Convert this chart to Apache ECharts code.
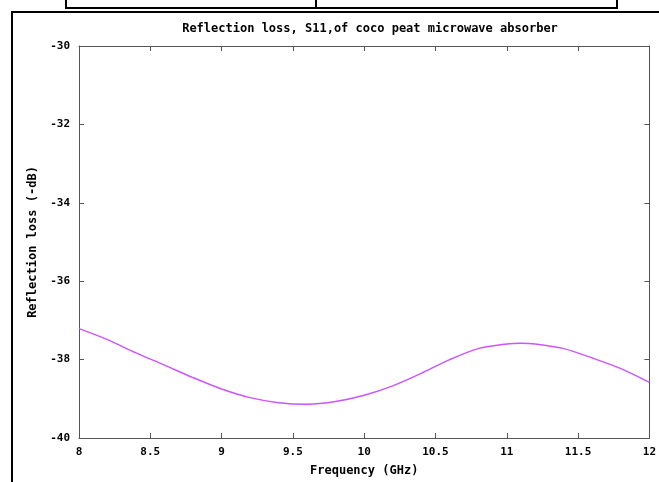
<!DOCTYPE html>
<html>
<head>
<meta charset="utf-8">
<script src="https://cdn.jsdelivr.net/npm/echarts@6/dist/echarts.min.js"></script>
<style>html,body{margin:0;padding:0;background:#fff;}#c{width:659px;height:482px;}</style>
</head>
<body>
<div id="c"></div>
<script>
var freq = [8.0, 8.2, 8.4, 8.6, 8.8, 9.0, 9.2, 9.4, 9.6, 9.8, 10.0, 10.2, 10.4, 10.6, 10.8, 11.0, 11.1, 11.2, 11.4, 11.6, 11.8, 12.0];
var loss = [-37.21, -37.49, -37.83, -38.14, -38.46, -38.75, -38.97, -39.10, -39.14, -39.07, -38.91, -38.67, -38.35, -38.00, -37.72, -37.60, -37.58, -37.60, -37.72, -37.96, -38.23, -38.58];
var titleText = 'Reflection loss, S11,of coco peat microwave absorber';
var xName = 'Frequency (GHz)';
var yName = 'Reflection loss (-dB)';

var FONT = 'DejaVu Sans Mono';
var chart = echarts.init(document.getElementById('c'), null, {renderer: 'canvas'});
var pts = freq.map(function (f, i) { return [f, loss[i]]; });
var axisLine = {show: true, lineStyle: {color: '#555', width: 1}};
var tick = {show: true, inside: true, length: 5, lineStyle: {color: '#555', width: 1}};
chart.setOption({
  animation: false,
  backgroundColor: '#fff',
  title: {
    text: titleText, left: 365, top: 18, textAlign: 'center',
    textStyle: {fontFamily: FONT, fontSize: 12, fontWeight: 'bold', color: '#000'}
  },
  grid: {left: 79, right: 8, top: 46, bottom: 39, containLabel: false},
  xAxis: [{
    type: 'value', min: 8, max: 12, interval: 0.5, position: 'bottom',
    name: xName, nameLocation: 'middle', nameGap: 27,
    nameTextStyle: {fontFamily: FONT, fontSize: 12, fontWeight: 'bold', color: '#000'},
    axisLine: axisLine, axisTick: tick, splitLine: {show: false},
    axisLabel: {fontFamily: FONT, fontSize: 11, fontWeight: 'bold', color: '#000', margin: 9,
      formatter: function (v) { return String(v); }}
  }, {
    type: 'value', min: 8, max: 12, interval: 0.5, position: 'top',
    axisLine: axisLine, axisTick: tick, splitLine: {show: false}, axisLabel: {show: false}
  }],
  yAxis: [{
    type: 'value', min: -40, max: -30, interval: 2, position: 'left',
    name: yName, nameLocation: 'middle', nameGap: 34, nameRotate: 90,
    nameTextStyle: {fontFamily: FONT, fontSize: 12, fontWeight: 'bold', color: '#000'},
    axisLine: axisLine, axisTick: tick, splitLine: {show: false},
    axisLabel: {fontFamily: FONT, fontSize: 11, fontWeight: 'bold', color: '#000', margin: 9}
  }, {
    type: 'value', min: -40, max: -30, interval: 2, position: 'right',
    axisLine: axisLine, axisTick: tick, splitLine: {show: false}, axisLabel: {show: false}
  }],
  series: [{
    type: 'line', data: pts, smooth: 0.3, showSymbol: false,
    lineStyle: {color: '#cc55ff', width: 1.5}
  }],
  graphic: [
    {type: 'rect', shape: {x: 12, y: 12, width: 700, height: 600}, style: {fill: 'none', stroke: '#000', lineWidth: 2}, silent: true},
    {type: 'rect', shape: {x: 66, y: -10, width: 551, height: 18}, style: {fill: 'none', stroke: '#000', lineWidth: 2}, silent: true},
    {type: 'line', shape: {x1: 316, y1: -10, x2: 316, y2: 8}, style: {stroke: '#000', lineWidth: 2}, silent: true}
  ]
});
</script>
</body>
</html>
